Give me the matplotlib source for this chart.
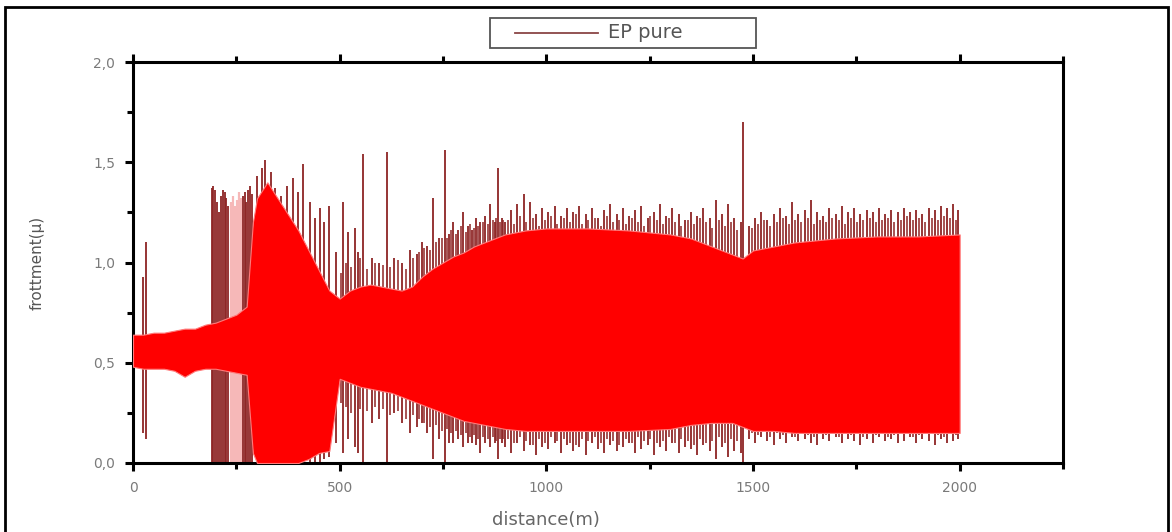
import matplotlib
matplotlib.use('Agg')
import matplotlib.pyplot as plt
from matplotlib.lines import Line2D
from matplotlib.patches import Rectangle
from matplotlib.ticker import MultipleLocator

# enveloppe du signal dense (distance en m, frottement min / max)
band_d = [0, 25, 50, 75, 100, 125, 150, 175, 200, 225, 250, 275, 290, 300, 325, 350,
          375, 400, 425, 450, 475, 500, 525, 550, 575, 600, 625, 650, 675, 700, 725,
          750, 775, 800, 825, 850, 875, 900, 950, 1000, 1100, 1200, 1300, 1350, 1400,
          1450, 1475, 1500, 1550, 1600, 1700, 1800, 1900, 2000]
band_hi = [0.64, 0.64, 0.65, 0.65, 0.66, 0.67, 0.67, 0.69, 0.70, 0.72, 0.74, 0.78, 1.20,
           1.32, 1.40, 1.32, 1.24, 1.16, 1.06, 0.96, 0.86, 0.82, 0.86, 0.88, 0.89, 0.88,
           0.87, 0.86, 0.88, 0.93, 0.97, 1.00, 1.03, 1.05, 1.08, 1.10, 1.12, 1.14, 1.16,
           1.17, 1.17, 1.16, 1.14, 1.12, 1.08, 1.04, 1.02, 1.06, 1.08, 1.10, 1.12, 1.13,
           1.13, 1.14]
band_lo = [0.48, 0.47, 0.47, 0.47, 0.46, 0.43, 0.46, 0.47, 0.47, 0.46, 0.45, 0.44, 0.05,
           0.0, 0.0, 0.0, 0.0, 0.0, 0.02, 0.05, 0.06, 0.42, 0.40, 0.38, 0.37, 0.36, 0.35,
           0.33, 0.31, 0.29, 0.27, 0.25, 0.23, 0.21, 0.20, 0.19, 0.18, 0.17, 0.16, 0.16,
           0.16, 0.16, 0.17, 0.19, 0.20, 0.20, 0.18, 0.16, 0.16, 0.15, 0.15, 0.15, 0.15,
           0.15]

# pics principaux du signal (distance, sommet, creux)
spike_d = [25, 32,
           190, 194, 198, 203, 208, 213, 218, 222, 226, 230,
           266, 270, 274, 279, 284, 288,
           300, 312, 320, 333, 344, 358, 372, 388, 400, 412, 429, 440, 453, 463, 473, 490,
           509, 521, 537, 545, 557, 578, 595, 615, 632, 650, 671, 686, 699, 712, 726, 740,
           755, 765, 775, 787, 799, 810, 820, 830, 840, 852, 864, 875, 884, 893,
           900, 915, 930, 945, 960, 975, 990, 1005, 1020, 1035, 1050, 1065, 1080, 1095,
           1110, 1125, 1140, 1155, 1170, 1185, 1200, 1215, 1230, 1245, 1260, 1275, 1290,
           1305, 1320, 1335, 1350, 1365, 1380, 1395, 1410, 1425, 1440, 1455, 1470,
           1477,
           1490, 1505, 1520, 1535, 1550, 1565, 1580, 1595, 1610, 1625, 1640, 1655, 1670,
           1685, 1700, 1715, 1730, 1745, 1760, 1775, 1790, 1805, 1820, 1835, 1850, 1865,
           1880, 1895, 1910, 1925, 1940, 1955, 1970, 1985, 1997]
spike_top = [0.93, 1.10,
             1.37, 1.38, 1.36, 1.30, 1.25, 1.33, 1.36, 1.35, 1.32, 1.28,
             1.33, 1.35, 1.30, 1.36, 1.38, 1.34,
             1.43, 1.47, 1.51, 1.45, 1.37, 1.33, 1.38, 1.42, 1.35, 1.49, 1.30, 1.22, 1.27,
             1.20, 1.28, 1.05,
             1.30, 1.15, 1.17, 1.05, 1.54, 1.02, 1.00, 1.55, 1.02, 1.00, 1.06, 1.04, 1.10,
             1.08, 1.32, 1.12, 1.56, 1.14, 1.20, 1.16, 1.25, 1.18, 1.16, 1.22, 1.20, 1.23,
             1.29, 1.20, 1.47, 1.22,
             1.20, 1.26, 1.29, 1.34, 1.30, 1.24, 1.27, 1.25, 1.28, 1.23, 1.27, 1.25, 1.28,
             1.24, 1.27, 1.22, 1.26, 1.29, 1.24, 1.27, 1.23, 1.26, 1.28, 1.22, 1.25, 1.29,
             1.23, 1.27, 1.24, 1.21, 1.25, 1.23, 1.27, 1.22, 1.31, 1.24, 1.29, 1.22, 1.20,
             1.70,
             1.18, 1.22, 1.25, 1.21, 1.24, 1.27, 1.23, 1.30, 1.24, 1.26, 1.31, 1.25, 1.23,
             1.27, 1.24, 1.28, 1.25, 1.27, 1.24, 1.26, 1.25, 1.27, 1.24, 1.26, 1.25, 1.27,
             1.25, 1.26, 1.24, 1.27, 1.26, 1.28, 1.27, 1.29, 1.26]
spike_bot = [0.15, 0.12,
             0.0, 0.0, 0.0, 0.0, 0.0, 0.0, 0.0, 0.0, 0.0, 0.0,
             0.0, 0.0, 0.0, 0.0, 0.0, 0.0,
             0.0, 0.0, 0.0, 0.0, 0.0, 0.0, 0.0, 0.0, 0.0, 0.0, 0.0, 0.0, 0.0, 0.02, 0.03,
             0.10,
             0.05, 0.12, 0.08, 0.05, 0.0, 0.20, 0.22, 0.0, 0.25, 0.20, 0.15, 0.18, 0.20,
             0.15, 0.02, 0.12, 0.0, 0.10, 0.10, 0.12, 0.08, 0.10, 0.10, 0.09, 0.05, 0.10,
             0.08, 0.10, 0.02, 0.10,
             0.08, 0.05, 0.10, 0.06, 0.09, 0.04, 0.08, 0.07, 0.10, 0.05, 0.09, 0.06, 0.08,
             0.04, 0.10, 0.07, 0.05, 0.09, 0.06, 0.08, 0.10, 0.05, 0.07, 0.09, 0.04, 0.08,
             0.06, 0.10, 0.05, 0.08, 0.07, 0.04, 0.09, 0.06, 0.02, 0.08, 0.03, 0.06, 0.05,
             0.0,
             0.12, 0.10, 0.13, 0.11, 0.09, 0.12, 0.10, 0.13, 0.11, 0.12, 0.10, 0.09, 0.12,
             0.11, 0.13, 0.10, 0.12, 0.11, 0.09, 0.12, 0.10, 0.13, 0.11, 0.12, 0.10, 0.11,
             0.13, 0.10, 0.12, 0.11, 0.09, 0.12, 0.10, 0.11, 0.12]

# pics secondaires, plus courts, entre les pics principaux
small_d = [503, 515, 528, 550, 565, 585, 605, 622, 640, 660, 678, 692, 705, 719, 733,
           747, 760, 770, 781, 793, 805, 815, 825, 835, 846, 858, 870, 879, 888, 896,
           907, 922, 937, 952, 967, 982, 997, 1012, 1027, 1042, 1057, 1072, 1087, 1102,
           1117, 1132, 1147, 1162, 1177, 1192, 1207, 1222, 1237, 1252, 1267, 1282, 1297,
           1312, 1327, 1342, 1357, 1372, 1387, 1402, 1417, 1432, 1447, 1462,
           1497, 1512, 1527, 1542, 1557, 1572, 1587, 1602, 1617, 1632, 1647, 1662, 1677,
           1692, 1707, 1722, 1737, 1752, 1767, 1782, 1797, 1812, 1827, 1842, 1857, 1872,
           1887, 1902, 1917, 1932, 1947, 1962, 1977, 1992]
small_top = [0.95, 1.00, 0.98, 1.02, 0.97, 1.00, 0.99, 0.98, 1.01, 0.97, 1.02, 1.05,
             1.07, 1.06, 1.10, 1.12, 1.12, 1.16, 1.14, 1.18, 1.15, 1.19, 1.17, 1.18, 1.20,
             1.19, 1.21, 1.22, 1.20, 1.21,
             1.21, 1.19, 1.23, 1.20, 1.22, 1.18, 1.21, 1.23, 1.19, 1.22, 1.20, 1.24, 1.19,
             1.21, 1.22, 1.18, 1.23, 1.20, 1.21, 1.19, 1.22, 1.20, 1.18, 1.23, 1.21, 1.19,
             1.22, 1.20, 1.18, 1.21, 1.19, 1.22, 1.20, 1.17, 1.21, 1.18, 1.20, 1.16,
             1.17, 1.19, 1.21, 1.18, 1.20, 1.22, 1.19, 1.21, 1.20, 1.22, 1.19, 1.21, 1.20,
             1.22, 1.21, 1.19, 1.22, 1.20, 1.21, 1.22, 1.20, 1.21, 1.22, 1.20, 1.21, 1.23,
             1.21, 1.22, 1.20, 1.22, 1.21, 1.23, 1.22, 1.21]
small_bot = [0.30, 0.28, 0.25, 0.27, 0.26, 0.28, 0.27, 0.24, 0.26, 0.22, 0.24, 0.22,
             0.20, 0.18, 0.19, 0.16, 0.17, 0.15, 0.16, 0.14, 0.15, 0.13, 0.14, 0.12, 0.13,
             0.12, 0.13, 0.11, 0.12, 0.12,
             0.12, 0.10, 0.13, 0.11, 0.09, 0.12, 0.10, 0.13, 0.11, 0.12, 0.10, 0.09, 0.12,
             0.11, 0.13, 0.10, 0.12, 0.11, 0.09, 0.12, 0.10, 0.13, 0.11, 0.12, 0.10, 0.11,
             0.13, 0.10, 0.12, 0.11, 0.09, 0.12, 0.10, 0.11, 0.13, 0.10, 0.12, 0.11,
             0.15, 0.14, 0.16, 0.13, 0.15, 0.14, 0.16, 0.13, 0.15, 0.14, 0.13, 0.15, 0.14,
             0.16, 0.13, 0.15, 0.14, 0.15, 0.13, 0.16, 0.14, 0.15, 0.13, 0.14, 0.16, 0.15,
             0.13, 0.14, 0.15, 0.16, 0.14, 0.13, 0.15, 0.14]

# traces pales entre les deux paquets de pics
faint_d = [236, 241, 246, 251, 256, 261]
faint_top = [1.30, 1.33, 1.28, 1.31, 1.35, 1.32]

x_ticks = [0, 500, 1000, 1500, 2000]
y_ticks = [0.0, 0.5, 1.0, 1.5, 2.0]
y_tick_labels = ['0,0', '0,5', '1,0', '1,5', '2,0']

W, H = 1172, 532
fig = plt.figure(figsize=(W / 100, H / 100), dpi=100)
ax = fig.add_axes([133 / W, 1 - 463 / H, (1063 - 133) / W, (463 - 62) / H])

dark = '#8e2424'
ax.vlines(faint_d, 0, faint_top, color='#f6b8b8', lw=1.6, zorder=1)
ax.vlines(small_d, small_bot, small_top, color=dark, lw=1.1, zorder=2)
ax.vlines(spike_d, spike_bot, spike_top, color=dark, lw=1.3, zorder=2)
ax.fill_between(band_d, band_lo, band_hi, color='#ff0000', edgecolor='#ff7a7a',
                lw=0.8, zorder=3)

ax.set_xlim(0, 2250)
ax.set_ylim(0, 2.0)
ax.set_xticks(x_ticks)
ax.set_xticklabels([str(v) for v in x_ticks])
ax.set_yticks(y_ticks)
ax.set_yticklabels(y_tick_labels)
ax.xaxis.set_minor_locator(MultipleLocator(250))
ax.yaxis.set_minor_locator(MultipleLocator(0.25))

for side in ['left', 'right', 'top', 'bottom']:
    ax.spines[side].set_linewidth(2.2)
    ax.spines[side].set_color('black')

ax.tick_params(which='both', direction='out', color='black', width=2.2,
               top=True, right=False, labelcolor='#7a7a7a', labelsize=10, pad=7)
ax.tick_params(which='major', length=6)
ax.tick_params(which='minor', length=4)

ax.set_xlabel('distance(m)', fontsize=13, color='#666666', va='center')
ax.xaxis.set_label_coords((546 - 133) / 930, (463 - 520) / 401)
ax.set_ylabel('frottment(µ)', fontsize=11, color='#555555', va='center')
ax.yaxis.set_label_coords((37 - 133) / 930, 0.5)

# légende dessinée au-dessus du cadre des axes
fig.add_artist(Rectangle((490 / W, 1 - 48 / H), 266 / W, 30 / H,
                         transform=fig.transFigure, fill=False,
                         edgecolor='#555555', lw=1.3))
fig.add_artist(Line2D([515 / W, 598 / W], [1 - 33 / H, 1 - 33 / H],
                      transform=fig.transFigure, color='#8a4545', lw=1.3))
fig.text(608 / W, 1 - 33 / H, 'EP pure', fontsize=14, color='#555555',
         ha='left', va='center')

# cadre noir autour de la figure
fig.add_artist(Rectangle((5 / W, -0.02), 1163 / W, 1 - 7 / H + 0.02,
                         transform=fig.transFigure, fill=False,
                         edgecolor='black', lw=2, zorder=10))

fig.savefig('out.png', dpi=100)
